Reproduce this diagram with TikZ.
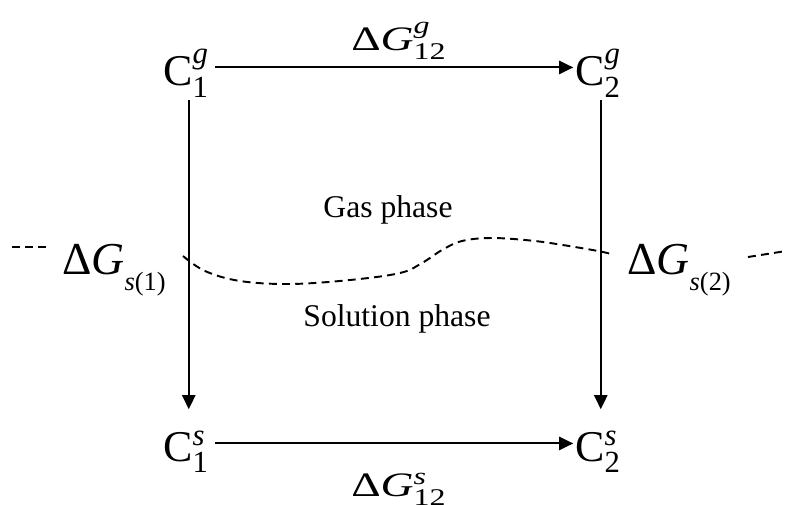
\documentclass[tikz,border=0pt]{standalone}
\usepackage{amsmath}
\usepackage{fontspec}
\setmainfont{Liberation Serif}
\usetikzlibrary{arrows.meta}

% labels of the cycle
\newcommand{\cstate}[2]{C$^{\textit{#1}}_{\textrm{#2}}$}
\newcommand{\dGside}[1]{Δ\textit{G}\raisebox{-0.36em}{\fontsize{15}{15}\selectfont\textit{s}(#1)}}
\newcommand{\dGpath}[1]{\scalebox{1}[0.75]{Δ\textit{G}$^{\textit{#1}}_{\textrm{12}}$}}

\begin{document}
\begin{tikzpicture}[
    x=0.02cm, y=-0.02cm,
    state/.style={inner sep=0pt, anchor=base west, font=\fontsize{25}{25}\selectfont},
    big/.style={inner sep=0pt, anchor=base west, font=\fontsize{26}{26}\selectfont},
    lbl/.style={inner sep=0pt, anchor=base, font=\fontsize{18}{20}\selectfont},
    arr/.style={-{Triangle[length=8pt, width=7.5pt]}, line width=1.1pt},
    phase/.style={dash pattern=on 4.5pt off 3pt, line width=1.1pt},
  ]
    \useasboundingbox (0,0) rectangle (786,504);

    % === corners of the cycle ===
    \node[state] (c1g) at (163, 85) {\cstate{g}{1}};
    \node[state] (c2g) at (575, 85) {\cstate{g}{2}};
    \node[state] (c1s) at (163, 461) {\cstate{s}{1}};
    \node[state] (c2s) at (575, 461) {\cstate{s}{2}};

    % free energy labels
    \node[big] (dg12g) at (351, 50) {\dGpath{g}};
    \node[big] (dg12s) at (351, 496) {\dGpath{s}};
    \node[big] (dgs1) at (62, 274) {\dGside{1}};
    \node[big] (dgs2) at (627, 274) {\dGside{2}};

    % phases
    \node[lbl] (gas) at (388, 217) {Gas phase};
    \node[lbl] (sol) at (397, 326) {Solution phase};

    % === arrows ===
    \draw[arr, shorten <=3.4pt, shorten >=1pt] ([yshift=10pt]c1g.base east) -- ([yshift=10pt]c2g.base west);
    \draw[arr, shorten <=3.4pt, shorten >=1pt] ([yshift=10pt]c1s.base east) -- ([yshift=10pt]c2s.base west);
    \draw[arr, shorten <=1.5pt, shorten >=12pt] ([xshift=1.5pt]c1g.south) -- ([xshift=1.5pt]c1s.north);
    \draw[arr, shorten <=1.5pt, shorten >=12pt] ([xshift=1.5pt]c2g.south) -- ([xshift=1.5pt]c2s.north);

    % phase boundary
    \draw[phase] plot[smooth, tension=0.6] coordinates {(183,256) (205,271) (240,281) (290,284) (350,280) (400,273) (422,263) (442,250) (462,241) (492,238) (535,241) (575,247) (603,252) (614,255)};
    \draw[phase] (12,247) -- (49,247);
    \draw[phase] (748,257) -- (786,251);
  \end{tikzpicture}
\end{document}
